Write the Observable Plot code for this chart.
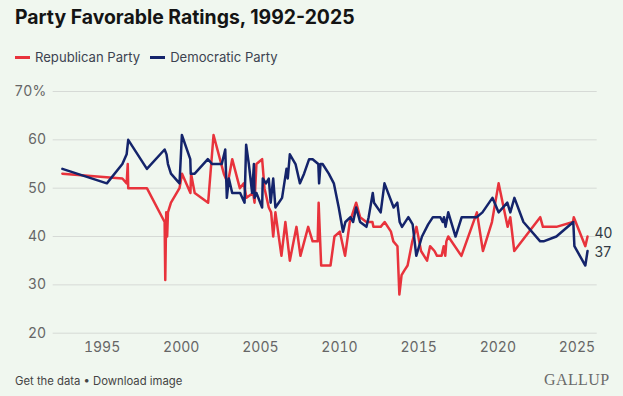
<!DOCTYPE html>
<html><head><meta charset="utf-8">
<script src="https://cdn.jsdelivr.net/npm/d3@7"></script>
<script src="https://cdn.jsdelivr.net/npm/@observablehq/plot@0.6"></script>
<style>
html,body{margin:0;padding:0;background:#f0f7ef;}
#wrap{position:relative;width:623px;height:396px;overflow:hidden;font-family:Inter,"Noto Sans",sans-serif;background:#f0f7ef;}
#title{position:absolute;left:15px;top:5px;font-size:19.4px;font-weight:700;color:#141414;white-space:nowrap;}
#legend{position:absolute;left:15px;top:49px;font-size:13.1px;color:#3c4350;display:flex;align-items:center;white-space:nowrap;}
.sw{display:inline-block;width:15px;height:3px;margin-right:5px;}
.item{display:flex;align-items:center;margin-right:10px;}
#chart{position:absolute;left:0;top:75px;}
#footer{position:absolute;left:15px;top:374px;font-size:11.3px;color:#444;white-space:nowrap;}
#logo{position:absolute;left:544px;top:371px;font-family:"Liberation Serif","DejaVu Serif",serif;font-size:16px;color:#6a6a6a;letter-spacing:0.4px;}
</style></head>
<body>
<div id="wrap">
  <div id="title">Party Favorable Ratings, 1992-2025</div>
  <div id="legend"></div>
  <div id="chart"></div>
  <div id="footer">Get the data • Download image</div>
  <div id="logo">GALLUP</div>
</div>
<script>
const seriesNames = ["Republican Party", "Democratic Party"];
const seriesColors = ["#e8333c", "#14246b"];

const repYears = [1992.49,1996.28,1996.55,1996.62,1996.65,1997.83,1998.95,1998.99,1999.05,1999.11,1999.16,1999.35,1999.89,2000.05,2000.58,2000.62,2000.85,2001.70,2002.04,2002.69,2002.94,2003.22,2003.70,2003.95,2004.12,2004.54,2004.63,2004.75,2005.11,2005.26,2005.53,2005.68,2005.81,2005.95,2006.33,2006.58,2006.86,2007.28,2007.53,2008.02,2008.30,2008.62,2008.68,2008.84,2009.43,2009.68,2010.02,2010.35,2010.65,2011.05,2011.30,2011.70,2012.08,2012.14,2012.60,2012.85,2013.25,2013.40,2013.66,2013.78,2013.92,2014.10,2014.30,2014.60,2014.86,2015.15,2015.53,2015.72,2016.00,2016.16,2016.45,2016.58,2016.68,2016.75,2016.87,2017.70,2018.68,2019.06,2019.63,2020.05,2020.62,2020.79,2021.04,2022.68,2022.85,2023.70,2024.75,2024.80,2025.53,2025.67];
const repValues = [53,52,51,55,50,50,43,31,45,40,45,47,50,53,49,53,49,47,61,53,51,56,50,51,48,49,47,55,56,50,46,45,40,45,36,43,35,42,36,42,39,39,47,34,34,40,41,36,43,47,44,43,43,42,42,43,41,39,38,28,32,33,34,39,42,37,35,38,37,36,36,38,36,39,40,36,45,37,43,51,42,44,37,44,42,42,43,44,38,40];

const demYears = [1992.49,1995.30,1996.28,1996.55,1996.65,1997.83,1998.95,1999.07,1999.16,1999.35,1999.89,2000.04,2000.57,2000.60,2000.85,2001.68,2001.95,2002.56,2002.78,2002.88,2003.01,2003.22,2003.72,2004.00,2004.10,2004.27,2004.48,2004.59,2004.63,2004.75,2005.11,2005.15,2005.35,2005.53,2005.65,2005.81,2005.95,2006.16,2006.37,2006.65,2006.73,2006.86,2007.22,2007.50,2007.76,2008.08,2008.30,2008.66,2008.71,2008.80,2008.93,2009.32,2009.64,2009.95,2010.22,2010.37,2010.69,2010.86,2011.05,2011.30,2011.70,2011.84,2012.10,2012.18,2012.60,2012.84,2013.42,2013.65,2013.80,2013.95,2014.35,2014.62,2014.85,2015.21,2015.60,2015.90,2016.37,2016.52,2016.60,2016.70,2016.87,2017.33,2017.72,2018.66,2019.03,2019.66,2020.05,2020.60,2020.79,2021.05,2021.62,2022.68,2022.89,2023.70,2024.77,2024.84,2025.53,2025.67];
const demValues = [54,51,55,57,60,54,58,57,55,53,51,61,56,53,53,56,55,55,58,48,52,49,49,47,59,55,49,55,48,49,46,52,51,52,47,52,46,47,48,54,52,57,55,51,53,56,56,55,51,55,55,53,51,46,41,43,44,43,46,43,42,44,49,47,45,51,46,47,43,42,44,42.5,36,40,42.5,44,44,43,44,42,45,40,44,44,45,48,45,47,45,48,43,39,39,40,43,38,34,37];

const xTicks = [1995,2000,2005,2010,2015,2020,2025];
const yTicks = [20,30,40,50,60,70];

const rep = repYears.map((x,i)=>({year:x, value:repValues[i], party:seriesNames[0]}));
const dem = demYears.map((x,i)=>({year:x, value:demValues[i], party:seriesNames[1]}));
const repLast = [rep[rep.length-1]];
const demLast = [dem[dem.length-1]];

// legend
const lg = document.getElementById("legend");
seriesNames.forEach((n,i)=>{
  const it = document.createElement("span"); it.className="item";
  const sw = document.createElement("span"); sw.className="sw"; sw.style.background=seriesColors[i];
  it.appendChild(sw); it.appendChild(document.createTextNode(n));
  lg.appendChild(it);
});

const font = 'Inter, "Noto Sans", sans-serif';
const chart = Plot.plot({
  width: 623, height: 285,
  marginTop: 16, marginBottom: 27.3, marginLeft: 52.7, marginRight: 26.3,
  style: {background: "transparent", fontFamily: font, fontSize: "14px", color: "#666"},
  x: {domain: [1991.91, 2026.28], label: null},
  y: {domain: [20, 70], label: null},
  marks: [
    Plot.gridY(yTicks, {stroke: "#d6dad6", strokeOpacity: 1, strokeWidth: 1}),
    Plot.axisY(yTicks, {tickSize: 0, tickPadding: 7, tickFormat: d => d === 70 ? "70%" : String(d), fill: "#666", fontSize: 14, label: null}),
    Plot.axisX(xTicks, {tickSize: 0, tickPadding: 9, tickFormat: d => String(d), fill: "#666", fontSize: 14, label: null}),
    Plot.line(rep, {x: "year", y: "value", stroke: seriesColors[0], strokeWidth: 2.5, strokeLinejoin: "round"}),
    Plot.line(dem, {x: "year", y: "value", stroke: seriesColors[1], strokeWidth: 2.5, strokeLinejoin: "round"}),
    Plot.text(repLast, {x: "year", y: "value", text: d => String(d.value), dx: 7, dy: -3, textAnchor: "start", fontSize: 14, fill: "#333a44"}),
    Plot.text(demLast, {x: "year", y: "value", text: d => String(d.value), dx: 7, dy: 1.5, textAnchor: "start", fontSize: 14, fill: "#333a44"})
  ]
});
document.getElementById("chart").appendChild(chart);
</script>
</body></html>
